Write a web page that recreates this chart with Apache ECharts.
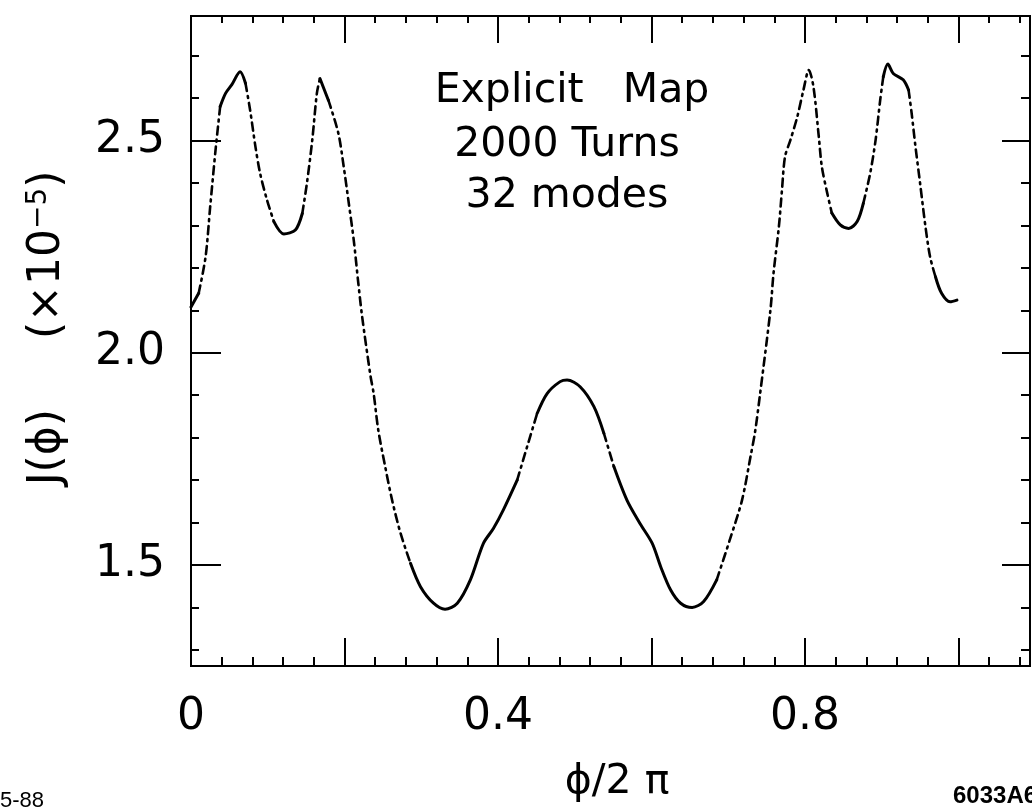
<!DOCTYPE html>
<html>
<head>
<meta charset="utf-8">
<script src="https://cdn.jsdelivr.net/npm/echarts@6/dist/echarts.min.js"></script>
<style>
  html, body { margin: 0; padding: 0; background: #fff; }
  #chart { width: 1032px; height: 809px; }
</style>
</head>
<body>
<div id="chart"></div>
<script>
// phase phi/2pi
const phase = [
  0.000, 0.010, 0.019, 0.025, 0.032, 0.038, 0.045, 0.053, 0.064, 0.071,
  0.077, 0.084, 0.090, 0.099, 0.108, 0.121, 0.136, 0.145, 0.151, 0.158,
  0.164, 0.168, 0.179, 0.192, 0.199, 0.205, 0.212, 0.218, 0.223, 0.234,
  0.238, 0.244, 0.253, 0.262, 0.273, 0.286, 0.299, 0.316, 0.331, 0.347,
  0.364, 0.381, 0.394, 0.407, 0.425, 0.438, 0.451, 0.464, 0.481, 0.490,
  0.507, 0.525, 0.538, 0.551, 0.568, 0.585, 0.601, 0.612, 0.625, 0.638,
  0.653, 0.668, 0.685, 0.702, 0.718, 0.729, 0.735, 0.741, 0.755, 0.759,
  0.766, 0.770, 0.774, 0.781, 0.790, 0.798, 0.805, 0.811, 0.818, 0.822,
  0.829, 0.835, 0.846, 0.857, 0.868, 0.876, 0.885, 0.892, 0.898, 0.902,
  0.908, 0.915, 0.928, 0.935, 0.939, 0.944, 0.950, 0.957, 0.963, 0.970,
  0.978, 0.989, 0.998
];
// action J(phi), units of 1e-5
const action = [
  2.108, 2.140, 2.226, 2.344, 2.478, 2.580, 2.611, 2.631, 2.662, 2.635,
  2.572, 2.485, 2.423, 2.360, 2.309, 2.280, 2.289, 2.328, 2.399, 2.501,
  2.611, 2.646, 2.595, 2.517, 2.438, 2.360, 2.266, 2.164, 2.085, 1.944,
  1.904, 1.818, 1.732, 1.653, 1.575, 1.504, 1.449, 1.410, 1.396, 1.410,
  1.465, 1.551, 1.586, 1.630, 1.700, 1.779, 1.857, 1.904, 1.932, 1.936,
  1.920, 1.873, 1.810, 1.732, 1.653, 1.598, 1.551, 1.496, 1.441, 1.410,
  1.400, 1.414, 1.465, 1.559, 1.653, 1.755, 1.814, 1.896, 2.101, 2.187,
  2.297, 2.383, 2.462, 2.501, 2.556, 2.619, 2.666, 2.627, 2.509, 2.438,
  2.376, 2.329, 2.301, 2.293, 2.309, 2.352, 2.423, 2.501, 2.595, 2.650,
  2.680, 2.658, 2.643, 2.619, 2.564, 2.485, 2.399, 2.297, 2.226, 2.179,
  2.140, 2.120, 2.124
];

// tick positions and labels
const xLabels = [0, 0.4, 0.8];
const xMajorTicks = [0.2, 0.4, 0.6, 0.8, 1.0];
const xMinorTicks = [0.04, 0.08, 0.12, 0.16, 0.24, 0.28, 0.32, 0.36, 0.44, 0.48,
  0.52, 0.56, 0.64, 0.68, 0.72, 0.76, 0.84, 0.88, 0.92, 0.96, 1.04, 1.08];
const yLabels = [1.5, 2.0, 2.5];
const yMajorTicks = [1.5, 2.0, 2.5];
const yMinorTicks = [1.3, 1.4, 1.6, 1.7, 1.8, 1.9, 2.1, 2.2, 2.3, 2.4, 2.6, 2.7];

const titleLines = ['Explicit   Map', '2000 Turns', '32 modes'];

const X_MIN = 0, X_MAX = 1.0932;
const Y_MIN = 1.2621, Y_MAX = 2.7933;
const FONT = 'DejaVu Sans';
// a thin white outline slims the strokes of the large lettering
const SLIM = { textBorderColor: '#fff', textBorderWidth: 1.4 };

// On screen the map points spread apart where the curve is steep, so steep
// stretches are drawn dash-dot and shallow stretches solid.
const PX_PER_X = 767.5, PX_PER_Y = 424.5, STEEP = 3.0;
const solidPts = [], dashPts = [];
function pushSeg(list, i) {
  const last = list[list.length - 1];
  if (!last || last[0] !== phase[i] || last[1] !== action[i]) {
    list.push([phase[i], action[i]]);
  }
  list.push([phase[i + 1], action[i + 1]]);
}
for (let i = 0; i < phase.length - 1; i++) {
  const slope = Math.abs((action[i + 1] - action[i]) * PX_PER_Y /
                         ((phase[i + 1] - phase[i]) * PX_PER_X));
  if (slope > STEEP) {
    if (solidPts.length && solidPts[solidPts.length - 1] !== null) solidPts.push(null);
    pushSeg(dashPts, i);
  } else {
    if (dashPts.length && dashPts[dashPts.length - 1] !== null) dashPts.push(null);
    pushSeg(solidPts, i);
  }
}
const toData = (list) => list.map((p) => (p === null ? [null, null] : p));

function tickAxis(kind, position, ticks, len, labels) {
  const ax = {
    type: 'value',
    position: position,
    min: kind === 'x' ? X_MIN : Y_MIN,
    max: kind === 'x' ? X_MAX : Y_MAX,
    axisLine: { show: false, onZero: false },
    splitLine: { show: false },
    axisTick: {
      show: true, inside: true, length: len, customValues: ticks,
      lineStyle: { color: '#000', width: 2 }
    },
    axisLabel: { show: false }
  };
  if (labels) {
    ax.axisLabel = Object.assign({
      show: true,
      customValues: labels,
      color: '#000',
      fontFamily: FONT,
      fontSize: 44,
      margin: kind === 'x' ? 30 : 26,
      formatter: kind === 'x'
        ? (v) => (v === 0 ? '0' : String(Math.round(v * 10) / 10))
        : (v) => v.toFixed(1)
    }, SLIM);
  }
  return ax;
}

function label(x, y, text, font, align) {
  return {
    type: 'text',
    style: Object.assign({
      x: x, y: y, text: text, font: font, fill: '#000',
      textAlign: align || 'center', textVerticalAlign: 'middle'
    })
  };
}

const chart = echarts.init(document.getElementById('chart'), null, { renderer: 'canvas' });

const titleFont = '41px "DejaVu Sans"';
const graphics = [
  label(572, 91, titleLines[0], titleFont),
  label(567, 145, titleLines[1], titleFont),
  label(567, 196, titleLines[2], titleFont),
  {
    type: 'text',
    x: 48, y: 328, rotation: Math.PI / 2,
    style: {
      text: 'J(\u03d5)     (\u00d710{sup|\u22125})',
      rich: { sup: { fontSize: 28, fontFamily: FONT, verticalAlign: 'top', padding: [0, 0, 18, 0] } },
      fontSize: 44, fontFamily: FONT, fill: '#000',
      align: 'center', verticalAlign: 'middle'
    }
  },
  label(617, 782, '\u03d5/2 \u03c0', '41px "DejaVu Sans"'),
  label(0, 801, '5-88', '22px "Liberation Sans"', 'left'),
  label(953, 796, '6033A6', 'bold 24px "Liberation Sans"', 'left')
];
// slim the large lettering
[0, 1, 2, 4].forEach((k) => Object.assign(graphics[k].style, { stroke: '#fff', lineWidth: 1.4 }));
Object.assign(graphics[3].style, { stroke: '#fff', lineWidth: 1.4 });

chart.setOption({
  animation: false,
  backgroundColor: '#fff',
  grid: {
    left: 191, right: 2, top: 16, bottom: 143,
    show: true, borderColor: '#000', borderWidth: 2, backgroundColor: 'transparent'
  },
  xAxis: [
    tickAxis('x', 'bottom', xMajorTicks, 28, xLabels),
    tickAxis('x', 'bottom', xMinorTicks, 9),
    tickAxis('x', 'top', xMajorTicks, 27),
    tickAxis('x', 'top', xMinorTicks, 7)
  ],
  yAxis: [
    tickAxis('y', 'left', yMajorTicks, 30, yLabels),
    tickAxis('y', 'left', yMinorTicks, 8),
    tickAxis('y', 'right', yMajorTicks, 28),
    tickAxis('y', 'right', yMinorTicks, 9)
  ],
  series: [
    {
      type: 'line', xAxisIndex: 0, yAxisIndex: 0,
      data: toData(solidPts),
      showSymbol: false, smooth: 0.3, connectNulls: false,
      lineStyle: { color: '#000', width: 3, cap: 'round', join: 'round' }
    },
    {
      type: 'line', xAxisIndex: 0, yAxisIndex: 0,
      data: toData(dashPts),
      showSymbol: false, smooth: 0.3, connectNulls: false,
      lineStyle: { color: '#000', width: 2.6, type: [8, 5, 2, 5], cap: 'round' }
    }
  ],
  graphic: graphics
});
</script>
</body>
</html>
